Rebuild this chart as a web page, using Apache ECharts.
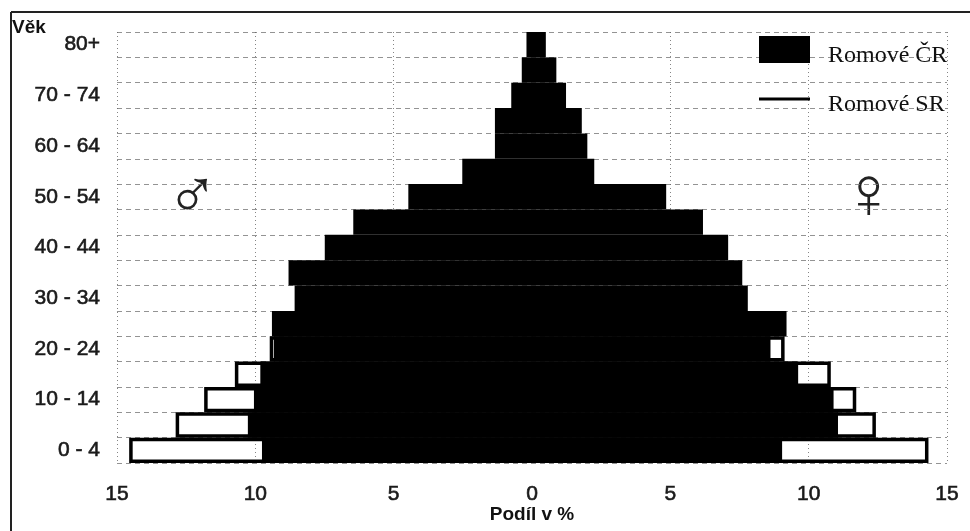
<!DOCTYPE html>
<html><head><meta charset="utf-8">
<style>html,body{margin:0;padding:0;background:#fff}#c{width:970px;height:531px}</style>
<script src="https://cdn.jsdelivr.net/npm/echarts@6/dist/echarts.min.js"></script>
</head><body><div id="c"></div>
<script>
const ages = ['0 - 4','5 - 9','10 - 14','15 - 19','20 - 24','25 - 29','30 - 34','35 - 39','40 - 44','45 - 49','50 - 54','55 - 59','60 - 64','65 - 69','70 - 74','75 - 79','80+'];
const menCR = [9.76,10.27,10.05,9.82,9.33,9.4,8.58,8.8,7.49,6.46,4.47,2.52,1.34,1.34,0.75,0.37,0.2];
const womenCR = [9.04,11.06,10.9,9.62,8.62,9.2,7.8,7.6,7.09,6.18,4.85,2.25,2.0,1.8,1.23,0.88,0.5];
// Slovak series is hidden behind the black bars from age 25 up
const menSR = [14.56,12.88,11.85,10.74,9.48];
const womenSR = [14.33,12.43,11.72,10.8,9.13];
const xTicks = [-15,15,5];
const nameCR = 'Romové ČR', nameSR = 'Romové SR';

const neg = a => a.map(v => -v);
const srStyle = {color:'transparent',borderColor:'#000',borderWidth:3.5};
const base = {type:'bar',barGap:'-100%',barCategoryGap:0,silent:true,animation:false};
const textBold = {color:'#1a1a1a',textBorderColor:'#1a1a1a',textBorderWidth:0.6,fontFamily:'Liberation Sans'};
const legendText = pad => ({rich:{a:{fontFamily:'Liberation Serif',fontSize:24,color:'#111',padding:[pad,0,0,13]}}});

const chart = echarts.init(document.getElementById('c'),null,{renderer:'canvas'});
chart.setOption({
  animation:false,
  backgroundColor:'#fff',
  grid:{left:117,right:23,top:32,bottom:68,outerBoundsMode:'none'},
  xAxis:{type:'value',min:xTicks[0],max:xTicks[1],interval:xTicks[2],
    axisLine:{show:false},axisTick:{show:false},
    axisLabel:{formatter:v=>Math.abs(v),fontSize:21,margin:21,...textBold,showMinLabel:true,showMaxLabel:true},
    splitLine:{show:true,lineStyle:{color:'#666',type:[1,3],width:0.8}},
    name:'Podíl v %',nameLocation:'middle',nameGap:42,nameMoveOverlap:false,
    nameTextStyle:{fontSize:19,fontWeight:'bold',color:'#111',fontFamily:'Liberation Sans'}},
  yAxis:{type:'category',data:ages,
    axisLine:{show:false},axisTick:{show:false},
    axisLabel:{interval:1,fontSize:21,margin:17,...textBold},
    splitLine:{show:true,interval:0,lineStyle:{color:'#777',type:[5,4],width:0.8}}},
  legend:[
    {data:[{name:nameCR,icon:'rect',itemStyle:{color:'#000',borderWidth:0}}],left:754,top:31,itemWidth:51,itemHeight:27,
     formatter:'{a|{name}}',textStyle:legendText(12),selectedMode:false},
    {data:[{name:nameSR,icon:'rect',itemStyle:{color:'#000',borderWidth:0}}],left:754,top:88,itemWidth:51,itemHeight:3,
     formatter:'{a|{name}}',textStyle:legendText(12),selectedMode:false}
  ],
  series:[
    {...base,name:nameSR,stack:'sr',data:neg(menSR),itemStyle:srStyle},
    {...base,name:nameSR,stack:'sr',data:womenSR,itemStyle:srStyle},
    {...base,name:nameCR,stack:'cr',data:neg(menCR),itemStyle:{color:'#000'}},
    {...base,name:nameCR,stack:'cr',data:womenCR,itemStyle:{color:'#000'}}
  ],
  graphic:[
    {type:'line',silent:true,shape:{x1:11,y1:12,x2:970,y2:12},style:{stroke:'#222',lineWidth:2}},
    {type:'line',silent:true,shape:{x1:11,y1:12,x2:11,y2:531},style:{stroke:'#222',lineWidth:2}},
    {type:'text',silent:true,left:12,top:18,style:{text:'Věk',font:'bold 19px "Liberation Sans"',fill:'#111'}},
    {type:'text',silent:true,left:166,top:164,style:{text:'♂',font:'70px "Liberation Sans"',fill:'#222'}},
    {type:'text',silent:true,left:841,top:161,style:{text:'♀',font:'74px "Liberation Sans"',fill:'#222'}}
  ]
});
</script></body></html>
